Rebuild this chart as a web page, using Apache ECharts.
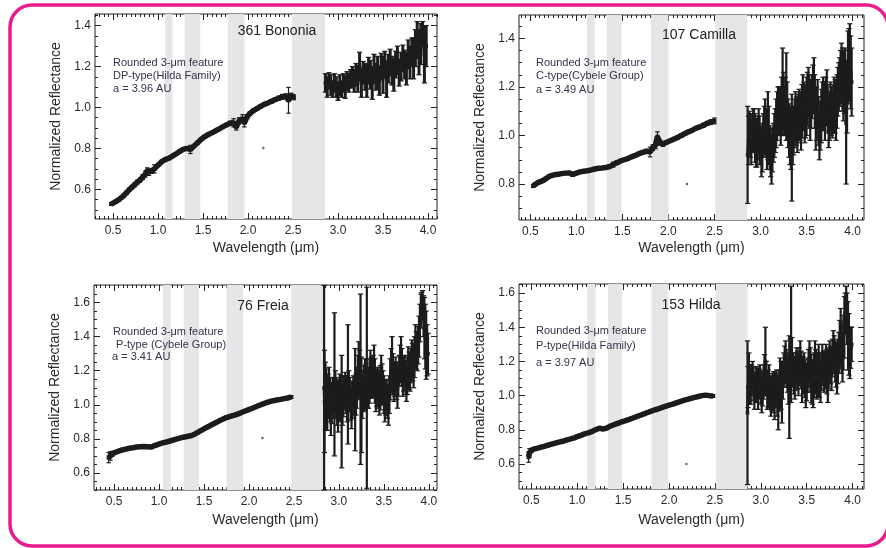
<!DOCTYPE html>
<html><head><meta charset="utf-8">
<script src="https://cdn.jsdelivr.net/npm/echarts@6/dist/echarts.min.js"></script>
<style>html,body{margin:0;padding:0;background:#fff}#c{width:886px;height:548px}</style>
</head><body><div id="c"></div>
<script>
// ---------- DATA ----------
const panelNames = ['361 Bononia', '107 Camilla', '76 Freia', '153 Hilda'];
const notesBononia = ['Rounded 3-μm feature', 'DP-type(Hilda Family)', 'a = 3.96 AU'];
const notesCamilla = ['Rounded 3-μm feature', 'C-type(Cybele Group)', 'a = 3.49 AU'];
const notesFreia = ['Rounded 3-μm feature', ' P-type (Cybele Group)', 'a = 3.41 AU'];
const notesHilda = ['Rounded 3-μm feature', 'P-type(Hilda Family)', 'a = 3.97 AU'];
const xTickLabels = [0.5, 1.0, 1.5, 2.0, 2.5, 3.0, 3.5, 4.0];
const yTicksBononia = [0.6, 0.8, 1.0, 1.2, 1.4];
const yTicksCamilla = [0.8, 1.0, 1.2, 1.4];
const yTicksFreia = [0.6, 0.8, 1.0, 1.2, 1.4, 1.6];
const yTicksHilda = [0.6, 0.8, 1.0, 1.2, 1.4, 1.6];
// gray (telluric) bands, µm
const bandsBononia = [[1.08, 1.16], [1.295, 1.47], [1.775, 1.96], [2.49, 2.855]];
const bandsCamilla = [[1.115, 1.20], [1.33, 1.49], [1.81, 2.0], [2.51, 2.855]];
const bandsFreia = [[1.045, 1.13], [1.275, 1.445], [1.75, 1.935], [2.47, 2.83]];
const bandsHilda = [[1.11, 1.20], [1.335, 1.49], [1.81, 1.99], [2.51, 2.855]];
// stray point
const dotBononia = [[2.17, 0.802]];
const dotCamilla = [[2.20, 0.80]];
const dotFreia = [[2.15, 0.805]];
const dotHilda = [[2.19, 0.60]];
// [wavelength, reflectance, error]
const bononiaNIR = [[0.48,0.528,0.006],[0.50,0.532,0.006],[0.53,0.540,0.006],[0.56,0.548,0.006],[0.59,0.558,0.007],[0.62,0.570,0.007],[0.65,0.583,0.008],[0.68,0.598,0.008],[0.71,0.610,0.009],[0.74,0.622,0.010],[0.77,0.635,0.010],[0.80,0.645,0.010],[0.83,0.660,0.012],[0.86,0.675,0.015],[0.88,0.690,0.015],[0.90,0.683,0.015],[0.93,0.690,0.012],[0.96,0.700,0.020],[1.00,0.718,0.006],[1.04,0.735,0.005],[1.08,0.745,0.005],[1.12,0.752,0.005],[1.16,0.762,0.005],[1.20,0.773,0.005],[1.24,0.785,0.005],[1.28,0.795,0.005],[1.32,0.800,0.006],[1.36,0.795,0.020],[1.40,0.812,0.006],[1.44,0.828,0.006],[1.48,0.845,0.006],[1.52,0.858,0.006],[1.56,0.868,0.005],[1.60,0.876,0.005],[1.64,0.886,0.005],[1.68,0.895,0.005],[1.72,0.905,0.005],[1.76,0.915,0.006],[1.80,0.923,0.010],[1.84,0.925,0.020],[1.87,0.905,0.015],[1.90,0.935,0.015],[1.94,0.945,0.020],[1.96,0.925,0.020],[1.99,0.955,0.010],[2.02,0.970,0.008],[2.06,0.985,0.006],[2.10,0.995,0.006],[2.14,1.005,0.006],[2.18,1.015,0.006],[2.22,1.022,0.006],[2.26,1.030,0.008],[2.30,1.038,0.008],[2.34,1.045,0.010],[2.38,1.052,0.012],[2.42,1.055,0.012],[2.45,1.035,0.063],[2.48,1.058,0.012],[2.51,1.050,0.012]];
const bononiaL = [[2.86,1.12,0.045],[2.88,1.10,0.05],[2.90,1.13,0.04],[2.92,1.11,0.05],[2.94,1.09,0.04],[2.96,1.12,0.045],[2.98,1.10,0.05],[3.00,1.08,0.045],[3.02,1.11,0.05],[3.04,1.09,0.04],[3.06,1.12,0.045],[3.08,1.10,0.055],[3.10,1.13,0.045],[3.12,1.12,0.045],[3.14,1.14,0.045],[3.16,1.15,0.05],[3.18,1.13,0.055],[3.20,1.16,0.055],[3.22,1.14,0.065],[3.24,1.20,0.07],[3.26,1.12,0.07],[3.28,1.17,0.055],[3.30,1.15,0.065],[3.32,1.13,0.08],[3.34,1.18,0.065],[3.36,1.16,0.07],[3.38,1.12,0.08],[3.40,1.19,0.07],[3.42,1.15,0.065],[3.44,1.17,0.08],[3.46,1.13,0.07],[3.48,1.20,0.065],[3.50,1.16,0.09],[3.52,1.21,0.065],[3.54,1.14,0.09],[3.56,1.19,0.07],[3.58,1.22,0.065],[3.60,1.18,0.07],[3.62,1.16,0.08],[3.64,1.21,0.065],[3.66,1.23,0.07],[3.68,1.17,0.065],[3.70,1.20,0.07],[3.72,1.24,0.065],[3.74,1.21,0.07],[3.76,1.19,0.08],[3.78,1.26,0.07],[3.80,1.22,0.08],[3.82,1.27,0.07],[3.84,1.24,0.10],[3.86,1.29,0.09],[3.88,1.33,0.09],[3.90,1.27,0.11],[3.92,1.31,0.10],[3.94,1.36,0.06],[3.96,1.26,0.14],[3.98,1.30,0.10]];
const camillaNIR = [[0.53,0.792,0.006],[0.55,0.798,0.006],[0.58,0.805,0.006],[0.61,0.810,0.006],[0.64,0.815,0.006],[0.67,0.822,0.006],[0.70,0.830,0.006],[0.73,0.835,0.006],[0.76,0.838,0.005],[0.80,0.840,0.005],[0.84,0.843,0.005],[0.88,0.845,0.005],[0.92,0.846,0.005],[0.96,0.840,0.008],[1.00,0.845,0.005],[1.04,0.850,0.005],[1.08,0.853,0.005],[1.12,0.855,0.005],[1.16,0.858,0.005],[1.20,0.862,0.005],[1.24,0.865,0.005],[1.28,0.866,0.005],[1.32,0.868,0.005],[1.36,0.872,0.008],[1.40,0.880,0.010],[1.44,0.888,0.008],[1.48,0.895,0.006],[1.52,0.900,0.005],[1.56,0.905,0.005],[1.60,0.912,0.005],[1.64,0.918,0.005],[1.68,0.925,0.006],[1.72,0.930,0.006],[1.76,0.935,0.008],[1.80,0.932,0.020],[1.83,0.950,0.012],[1.86,0.960,0.015],[1.88,0.995,0.020],[1.91,0.970,0.010],[1.94,0.965,0.010],[1.98,0.972,0.006],[2.02,0.978,0.006],[2.06,0.985,0.006],[2.10,0.992,0.006],[2.14,1.000,0.006],[2.18,1.008,0.006],[2.22,1.015,0.006],[2.26,1.022,0.006],[2.30,1.030,0.006],[2.34,1.035,0.006],[2.38,1.042,0.008],[2.42,1.050,0.008],[2.46,1.055,0.010],[2.50,1.060,0.012]];
const camillaL = [[2.86,0.92,0.20],[2.87,0.98,0.10],[2.88,1.02,0.08],[2.89,1.00,0.09],[2.90,0.97,0.09],[2.91,1.01,0.08],[2.92,1.04,0.07],[2.93,1.02,0.09],[2.94,0.99,0.10],[2.95,0.97,0.10],[2.96,0.95,0.08],[2.97,0.99,0.09],[2.98,1.02,0.09],[2.99,0.98,0.10],[3.00,0.96,0.08],[3.01,0.93,0.10],[3.02,0.95,0.10],[3.03,1.00,0.09],[3.04,1.02,0.10],[3.05,1.05,0.10],[3.06,1.01,0.10],[3.07,0.98,0.12],[3.08,1.04,0.14],[3.09,1.00,0.12],[3.10,0.95,0.09],[3.11,0.93,0.10],[3.12,0.90,0.10],[3.13,0.94,0.09],[3.14,0.97,0.08],[3.15,1.00,0.09],[3.16,1.02,0.09],[3.17,1.05,0.10],[3.18,1.08,0.10],[3.19,1.10,0.10],[3.20,1.12,0.08],[3.21,1.10,0.10],[3.22,1.08,0.12],[3.23,1.12,0.12],[3.24,1.18,0.18],[3.25,1.14,0.12],[3.26,1.10,0.10],[3.27,1.12,0.12],[3.28,1.16,0.18],[3.29,1.10,0.12],[3.30,1.05,0.10],[3.31,1.02,0.11],[3.32,1.00,0.12],[3.33,0.98,0.12],[3.34,0.95,0.22],[3.35,0.99,0.11],[3.36,1.02,0.10],[3.37,1.05,0.10],[3.38,1.08,0.10],[3.39,1.06,0.10],[3.40,1.04,0.11],[3.41,1.07,0.10],[3.42,1.10,0.09],[3.43,1.08,0.10],[3.44,1.06,0.12],[3.45,1.10,0.11],[3.46,1.15,0.10],[3.47,1.12,0.10],[3.48,1.08,0.11],[3.49,1.10,0.11],[3.50,1.12,0.12],[3.51,1.15,0.11],[3.52,1.18,0.10],[3.53,1.14,0.11],[3.54,1.10,0.12],[3.55,1.13,0.10],[3.56,1.16,0.09],[3.57,1.19,0.10],[3.58,1.22,0.10],[3.59,1.14,0.11],[3.60,1.06,0.12],[3.61,1.09,0.11],[3.62,1.13,0.10],[3.63,1.06,0.10],[3.64,1.00,0.10],[3.65,1.04,0.10],[3.66,1.08,0.11],[3.67,1.12,0.10],[3.68,1.15,0.09],[3.69,1.12,0.10],[3.70,1.10,0.12],[3.71,1.14,0.10],[3.72,1.18,0.09],[3.73,1.11,0.10],[3.74,1.05,0.10],[3.75,1.08,0.10],[3.76,1.12,0.10],[3.77,1.10,0.10],[3.78,1.08,0.09],[3.79,1.11,0.10],[3.80,1.14,0.10],[3.81,1.12,0.11],[3.82,1.10,0.12],[3.83,1.14,0.11],[3.84,1.18,0.10],[3.85,1.20,0.10],[3.86,1.22,0.10],[3.87,1.24,0.11],[3.88,1.26,0.12],[3.89,1.23,0.13],[3.90,1.20,0.14],[3.91,1.22,0.13],[3.92,1.24,0.12],[3.93,1.05,0.25],[3.94,1.16,0.15],[3.95,1.28,0.15],[3.96,1.29,0.15],[3.97,1.30,0.16],[3.98,1.26,0.15],[3.99,1.22,0.14]];
const freiaNIR = [[0.44,0.690,0.030],[0.46,0.700,0.025],[0.48,0.712,0.015],[0.51,0.720,0.008],[0.55,0.728,0.006],[0.59,0.735,0.005],[0.63,0.740,0.005],[0.67,0.745,0.005],[0.71,0.748,0.005],[0.75,0.752,0.005],[0.79,0.754,0.005],[0.83,0.755,0.005],[0.87,0.754,0.005],[0.91,0.752,0.008],[0.95,0.760,0.006],[0.99,0.768,0.005],[1.03,0.775,0.005],[1.07,0.780,0.005],[1.11,0.786,0.005],[1.15,0.792,0.005],[1.19,0.798,0.005],[1.23,0.804,0.005],[1.27,0.810,0.005],[1.31,0.814,0.006],[1.35,0.818,0.006],[1.39,0.826,0.006],[1.43,0.838,0.005],[1.47,0.850,0.005],[1.51,0.862,0.005],[1.55,0.873,0.005],[1.59,0.884,0.005],[1.63,0.895,0.005],[1.67,0.906,0.005],[1.71,0.916,0.006],[1.75,0.925,0.007],[1.79,0.932,0.008],[1.83,0.938,0.008],[1.87,0.945,0.006],[1.91,0.953,0.005],[1.95,0.962,0.005],[1.99,0.970,0.005],[2.03,0.978,0.005],[2.07,0.987,0.005],[2.11,0.996,0.005],[2.15,1.004,0.005],[2.19,1.012,0.005],[2.23,1.018,0.005],[2.27,1.024,0.005],[2.31,1.028,0.005],[2.35,1.032,0.005],[2.39,1.036,0.006],[2.43,1.040,0.007],[2.47,1.046,0.008]];
const freiaL = [[2.835,1.10,0.60],[2.84,1.02,0.30],[2.85,1.05,0.20],[2.86,1.03,0.18],[2.87,1.00,0.15],[2.88,1.05,0.13],[2.89,1.10,0.12],[2.90,1.03,0.13],[2.91,0.96,0.14],[2.92,1.01,0.12],[2.93,1.06,0.10],[2.94,1.04,0.12],[2.95,1.12,0.42],[2.96,1.08,0.12],[2.97,1.04,0.12],[2.98,1.01,0.13],[2.99,0.98,0.14],[3.00,1.03,0.12],[3.01,1.08,0.10],[3.02,1.02,0.12],[3.03,0.96,0.33],[3.04,1.00,0.12],[3.05,1.05,0.12],[3.06,1.07,0.10],[3.07,1.10,0.09],[3.08,1.06,0.11],[3.09,1.02,0.12],[3.10,1.12,0.35],[3.11,1.09,0.11],[3.12,1.06,0.10],[3.13,1.02,0.11],[3.14,0.98,0.12],[3.15,1.03,0.11],[3.16,1.08,0.09],[3.17,1.05,0.11],[3.18,1.03,0.30],[3.19,1.06,0.12],[3.20,1.10,0.12],[3.21,1.16,0.13],[3.22,1.22,0.15],[3.23,1.18,0.14],[3.24,1.15,0.50],[3.25,1.00,0.28],[3.26,1.04,0.12],[3.27,1.08,0.12],[3.28,1.10,0.13],[3.29,1.12,0.15],[3.30,1.11,0.13],[3.31,1.10,0.59],[3.32,1.10,0.12],[3.33,1.10,0.12],[3.34,1.14,0.13],[3.35,1.18,0.14],[3.36,1.16,0.12],[3.37,1.14,0.10],[3.38,1.17,0.12],[3.39,1.20,0.15],[3.40,1.14,0.13],[3.41,1.08,0.12],[3.42,1.10,0.11],[3.43,1.12,0.10],[3.44,1.09,0.11],[3.45,1.06,0.12],[3.46,1.10,0.13],[3.47,1.15,0.14],[3.48,1.12,0.12],[3.49,1.10,0.10],[3.50,1.06,0.11],[3.51,1.02,0.12],[3.52,1.04,0.10],[3.53,1.06,0.09],[3.54,1.02,0.10],[3.55,0.98,0.10],[3.56,1.06,0.11],[3.57,1.15,0.12],[3.58,1.20,0.13],[3.59,1.25,0.15],[3.60,1.18,0.12],[3.61,1.12,0.10],[3.62,1.15,0.10],[3.63,1.18,0.10],[3.64,1.14,0.11],[3.65,1.10,0.12],[3.66,1.15,0.10],[3.67,1.20,0.09],[3.68,1.24,0.11],[3.69,1.28,0.12],[3.70,1.22,0.11],[3.71,1.15,0.10],[3.72,1.18,0.10],[3.73,1.20,0.09],[3.74,1.16,0.10],[3.75,1.12,0.10],[3.76,1.17,0.11],[3.77,1.22,0.12],[3.78,1.20,0.11],[3.79,1.18,0.10],[3.80,1.23,0.10],[3.81,1.28,0.10],[3.82,1.25,0.11],[3.83,1.22,0.12],[3.84,1.28,0.12],[3.85,1.35,0.12],[3.86,1.32,0.11],[3.87,1.30,0.10],[3.88,1.35,0.11],[3.89,1.40,0.12],[3.90,1.48,0.11],[3.91,1.55,0.10],[3.92,1.58,0.08],[3.93,1.62,0.05],[3.94,1.52,0.12],[3.95,1.45,0.18],[3.96,1.40,0.19],[3.97,1.35,0.20],[3.98,1.32,0.15],[3.99,1.30,0.12]];
const hildaNIR = [[0.47,0.640,0.030],[0.48,0.665,0.025],[0.50,0.680,0.012],[0.53,0.688,0.006],[0.56,0.692,0.006],[0.60,0.698,0.006],[0.64,0.703,0.006],[0.68,0.710,0.006],[0.72,0.716,0.006],[0.76,0.722,0.006],[0.80,0.728,0.006],[0.84,0.733,0.006],[0.88,0.740,0.006],[0.92,0.746,0.006],[0.96,0.752,0.006],[1.00,0.760,0.006],[1.04,0.768,0.006],[1.08,0.776,0.006],[1.12,0.782,0.006],[1.16,0.790,0.006],[1.20,0.800,0.006],[1.24,0.810,0.006],[1.28,0.805,0.008],[1.32,0.810,0.006],[1.36,0.822,0.006],[1.40,0.830,0.006],[1.44,0.838,0.006],[1.48,0.846,0.006],[1.52,0.852,0.006],[1.56,0.860,0.006],[1.60,0.868,0.006],[1.64,0.876,0.006],[1.68,0.884,0.006],[1.72,0.892,0.006],[1.76,0.900,0.006],[1.80,0.908,0.006],[1.84,0.916,0.006],[1.88,0.922,0.006],[1.92,0.930,0.006],[1.96,0.937,0.006],[2.00,0.944,0.006],[2.04,0.950,0.006],[2.08,0.958,0.006],[2.12,0.965,0.006],[2.16,0.972,0.006],[2.20,0.978,0.006],[2.24,0.984,0.006],[2.28,0.990,0.006],[2.32,0.995,0.006],[2.36,1.000,0.007],[2.40,1.003,0.007],[2.44,1.000,0.008],[2.48,0.998,0.008]];
const hildaL = [[2.855,0.90,0.42],[2.86,1.05,0.12],[2.87,1.10,0.15],[2.88,1.08,0.10],[2.89,1.05,0.10],[2.90,1.09,0.09],[2.91,1.12,0.08],[2.92,1.07,0.10],[2.93,1.02,0.10],[2.94,1.05,0.09],[2.95,1.08,0.09],[2.96,1.06,0.10],[2.97,1.04,0.12],[2.98,1.07,0.09],[2.99,1.10,0.08],[3.00,1.05,0.10],[3.01,1.00,0.10],[3.02,1.04,0.10],[3.03,1.08,0.10],[3.04,1.12,0.12],[3.05,1.20,0.20],[3.06,1.10,0.10],[3.07,1.02,0.10],[3.08,1.04,0.11],[3.09,1.06,0.12],[3.10,1.02,0.10],[3.11,0.98,0.10],[3.12,1.01,0.10],[3.13,1.04,0.09],[3.14,1.02,0.12],[3.15,1.00,0.14],[3.16,1.03,0.10],[3.17,1.05,0.10],[3.18,1.00,0.12],[3.19,0.95,0.15],[3.20,1.03,0.12],[3.21,1.10,0.12],[3.22,1.06,0.14],[3.23,1.02,0.18],[3.24,1.09,0.11],[3.25,1.15,0.10],[3.26,1.18,0.11],[3.27,1.20,0.12],[3.28,1.16,0.11],[3.29,1.12,0.10],[3.30,1.10,0.15],[3.31,1.05,0.30],[3.32,1.18,0.15],[3.33,1.30,0.34],[3.34,1.22,0.12],[3.35,1.15,0.10],[3.36,1.12,0.11],[3.37,1.10,0.12],[3.38,1.14,0.11],[3.39,1.18,0.10],[3.40,1.15,0.11],[3.41,1.12,0.12],[3.42,1.17,0.11],[3.43,1.22,0.10],[3.44,1.15,0.11],[3.45,1.08,0.12],[3.46,1.12,0.11],[3.47,1.15,0.10],[3.48,1.10,0.11],[3.49,1.05,0.12],[3.50,1.08,0.11],[3.51,1.12,0.10],[3.52,1.16,0.11],[3.53,1.20,0.12],[3.54,1.15,0.13],[3.55,1.10,0.14],[3.56,1.08,0.13],[3.57,1.05,0.12],[3.58,1.12,0.13],[3.59,1.18,0.14],[3.60,1.14,0.13],[3.61,1.10,0.12],[3.62,1.12,0.13],[3.63,1.15,0.15],[3.64,1.12,0.13],[3.65,1.08,0.12],[3.66,1.14,0.11],[3.67,1.20,0.10],[3.68,1.16,0.10],[3.69,1.12,0.10],[3.70,1.15,0.11],[3.71,1.18,0.12],[3.72,1.14,0.13],[3.73,1.10,0.14],[3.74,1.16,0.12],[3.75,1.22,0.10],[3.76,1.18,0.11],[3.77,1.15,0.12],[3.78,1.22,0.11],[3.79,1.28,0.10],[3.80,1.24,0.11],[3.81,1.20,0.12],[3.82,1.18,0.13],[3.83,1.15,0.14],[3.84,1.20,0.13],[3.85,1.25,0.12],[3.86,1.30,0.14],[3.87,1.35,0.16],[3.88,1.28,0.15],[3.89,1.22,0.14],[3.90,1.31,0.16],[3.91,1.40,0.18],[3.92,1.48,0.12],[3.93,1.55,0.09],[3.94,1.45,0.15],[3.95,1.35,0.20],[3.96,1.30,0.18],[3.97,1.25,0.15],[3.98,1.28,0.12],[3.99,1.30,0.10]];

// ---------- LAYOUT ----------
const FONT = "'Liberation Sans', Arial, Helvetica, sans-serif";
const INK = '#1c1c1c';
const panels = [
  {name: panelNames[0], notes: notesBononia, nir: bononiaNIR, lb: bononiaL, dot: dotBononia, bands: bandsBononia, yTicks: yTicksBononia,
   grid: {left: 95, top: 14, width: 342, height: 205}, x: [0.30, 4.10], y: [0.455, 1.457],
   title: [277, 31], noteX: [113, 113, 113], noteY: [62.5, 75.5, 88.5], xGap: 22, lw: 3},
  {name: panelNames[1], notes: notesCamilla, nir: camillaNIR, lb: camillaL, dot: dotCamilla, bands: bandsCamilla, yTicks: yTicksCamilla,
   grid: {left: 519, top: 15, width: 345, height: 205}, x: [0.377, 4.124], y: [0.652, 1.496],
   title: [699, 35], noteX: [536, 536, 536], noteY: [62.5, 76, 89.5], xGap: 21, lw: 2.2},
  {name: panelNames[2], notes: notesFreia, nir: freiaNIR, lb: freiaL, dot: dotFreia, bands: bandsFreia, yTicks: yTicksFreia,
   grid: {left: 94, top: 285, width: 343, height: 205}, x: [0.277, 4.09], y: [0.50, 1.703],
   title: [263, 306], noteX: [113, 113, 112], noteY: [331.5, 345, 356.5], xGap: 23, lw: 2.2},
  {name: panelNames[3], notes: notesHilda, nir: hildaNIR, lb: hildaL, dot: dotHilda, bands: bandsHilda, yTicks: yTicksHilda,
   grid: {left: 519, top: 284, width: 345, height: 205}, x: [0.366, 4.124], y: [0.454, 1.653],
   title: [691, 305], noteX: [536, 536, 536], noteY: [331, 346, 363], xGap: 24, lw: 2.2}
];

function minorTicks(min, max, step, majors) {
  const out = [];
  for (let k = Math.ceil(min / step - 1e-9); k * step <= max + 1e-9; k++) {
    const v = +(k * step).toFixed(4);
    if (!majors.some(m => Math.abs(m - v) < 1e-6)) out.push(v);
  }
  return out;
}

function makeErr(lw, cw, s) {
  return function (params, api) {
    const x = api.value(0), y = api.value(1), e = api.value(2);
    const p = api.coord([x, y]), t = api.coord([x, y + e]), b = api.coord([x, y - e]);
    const st = {stroke: INK, lineWidth: lw};
    const cst = {stroke: INK, lineWidth: 1.2};
    return {type: 'group', children: [
      {type: 'line', shape: {x1: t[0], y1: t[1], x2: b[0], y2: b[1]}, style: st},
      {type: 'line', shape: {x1: t[0] - cw, y1: t[1], x2: t[0] + cw, y2: t[1]}, style: cst},
      {type: 'line', shape: {x1: b[0] - cw, y1: b[1], x2: b[0] + cw, y2: b[1]}, style: cst},
      {type: 'rect', shape: {x: p[0] - s / 2, y: p[1] - s / 2, width: s, height: s}, style: {fill: INK}}
    ]};
  };
}
const errNIR = makeErr(1.2, 2.2, 4);

const grids = [], xAxes = [], yAxes = [], series = [], graphics = [];
const labelStyle = {fontSize: 12, color: '#2a2a2a', fontFamily: FONT};
const nameStyle = {fontSize: 14, color: '#2a2a2a', fontFamily: FONT};
const tickLine = {color: '#222', width: 1};

panels.forEach((P, i) => {
  grids.push(Object.assign({show: true, borderColor: '#222', borderWidth: 1, backgroundColor: 'transparent'}, P.grid));
  const xMin = minorTicks(P.x[0], P.x[1], 0.05, xTickLabels);
  const yMin = minorTicks(P.y[0], P.y[1], 0.05, P.yTicks);
  const base = {gridIndex: i, type: 'value', axisLine: {show: false}, splitLine: {show: false}};
  xAxes.push(Object.assign({}, base, {min: P.x[0], max: P.x[1], position: 'bottom',
    axisTick: {inside: true, length: 6, customValues: xTickLabels, lineStyle: tickLine},
    axisLabel: Object.assign({customValues: xTickLabels, margin: 6, formatter: v => v.toFixed(1)}, labelStyle),
    name: 'Wavelength (μm)', nameLocation: 'middle', nameGap: P.xGap, nameTextStyle: nameStyle}));
  xAxes.push(Object.assign({}, base, {min: P.x[0], max: P.x[1], position: 'bottom', axisLabel: {show: false},
    axisTick: {inside: true, length: 3, customValues: xMin, lineStyle: tickLine}}));
  xAxes.push(Object.assign({}, base, {min: P.x[0], max: P.x[1], position: 'top', axisLabel: {show: false},
    axisTick: {inside: true, length: 6, customValues: xTickLabels, lineStyle: tickLine}}));
  xAxes.push(Object.assign({}, base, {min: P.x[0], max: P.x[1], position: 'top', axisLabel: {show: false},
    axisTick: {inside: true, length: 3, customValues: xMin, lineStyle: tickLine}}));
  yAxes.push(Object.assign({}, base, {min: P.y[0], max: P.y[1], position: 'left',
    axisTick: {inside: true, length: 6, customValues: P.yTicks, lineStyle: tickLine},
    axisLabel: Object.assign({customValues: P.yTicks, margin: 4, formatter: v => v.toFixed(1)}, labelStyle),
    name: 'Normalized Reflectance', nameLocation: 'middle', nameGap: 32, nameTextStyle: nameStyle}));
  yAxes.push(Object.assign({}, base, {min: P.y[0], max: P.y[1], position: 'left', axisLabel: {show: false},
    axisTick: {inside: true, length: 3, customValues: yMin, lineStyle: tickLine}}));
  yAxes.push(Object.assign({}, base, {min: P.y[0], max: P.y[1], position: 'right', axisLabel: {show: false},
    axisTick: {inside: true, length: 6, customValues: P.yTicks, lineStyle: tickLine}}));
  yAxes.push(Object.assign({}, base, {min: P.y[0], max: P.y[1], position: 'right', axisLabel: {show: false},
    axisTick: {inside: true, length: 3, customValues: yMin, lineStyle: tickLine}}));

  const xi = 4 * i, yi = 4 * i;
  series.push({type: 'scatter', xAxisIndex: xi, yAxisIndex: yi, data: P.dot, symbolSize: 2.5,
    itemStyle: {color: '#444'}, z: 1, silent: true,
    markArea: {silent: true, itemStyle: {color: '#e5e6e8'},
      data: P.bands.map(b => [{xAxis: b[0]}, {xAxis: b[1]}])}});
  series.push({type: 'line', xAxisIndex: xi, yAxisIndex: yi, data: P.nir.map(d => [d[0], d[1]]),
    showSymbol: false, lineStyle: {color: INK, width: 5.5}, z: 3, silent: true});
  series.push({type: 'custom', xAxisIndex: xi, yAxisIndex: yi, data: P.nir, renderItem: errNIR,
    encode: {x: 0, y: 1}, z: 4, silent: true});
  series.push({type: 'line', xAxisIndex: xi, yAxisIndex: yi, data: P.lb.map(d => [d[0], d[1]]),
    showSymbol: false, lineStyle: {color: INK, width: 3}, z: 3, silent: true});
  series.push({type: 'custom', xAxisIndex: xi, yAxisIndex: yi, data: P.lb, renderItem: makeErr(P.lw, 2.6, 3.6),
    encode: {x: 0, y: 1}, z: 4, silent: true});

  graphics.push({type: 'text', x: P.title[0], y: P.title[1], z: 10,
    style: {text: P.name, fill: '#222', fontSize: 14, fontFamily: FONT, textAlign: 'center', textVerticalAlign: 'middle'}});
  P.notes.forEach((t, k) => {
    graphics.push({type: 'text', x: P.noteX[k], y: P.noteY[k], z: 10,
      style: {text: t, fill: '#33334a', fontSize: 11, fontFamily: FONT, textAlign: 'left', textVerticalAlign: 'middle'}});
  });
});

graphics.push({type: 'rect', z: 20, shape: {x: 10, y: 5, width: 878, height: 541, r: 22},
  style: {fill: 'none', stroke: '#ec1a8c', lineWidth: 3.5}});

const chart = echarts.init(document.getElementById('c'));
chart.setOption({
  backgroundColor: '#fff',
  animation: false,
  grid: grids,
  xAxis: xAxes,
  yAxis: yAxes,
  series: series,
  graphic: graphics
});
</script>
</body></html>
